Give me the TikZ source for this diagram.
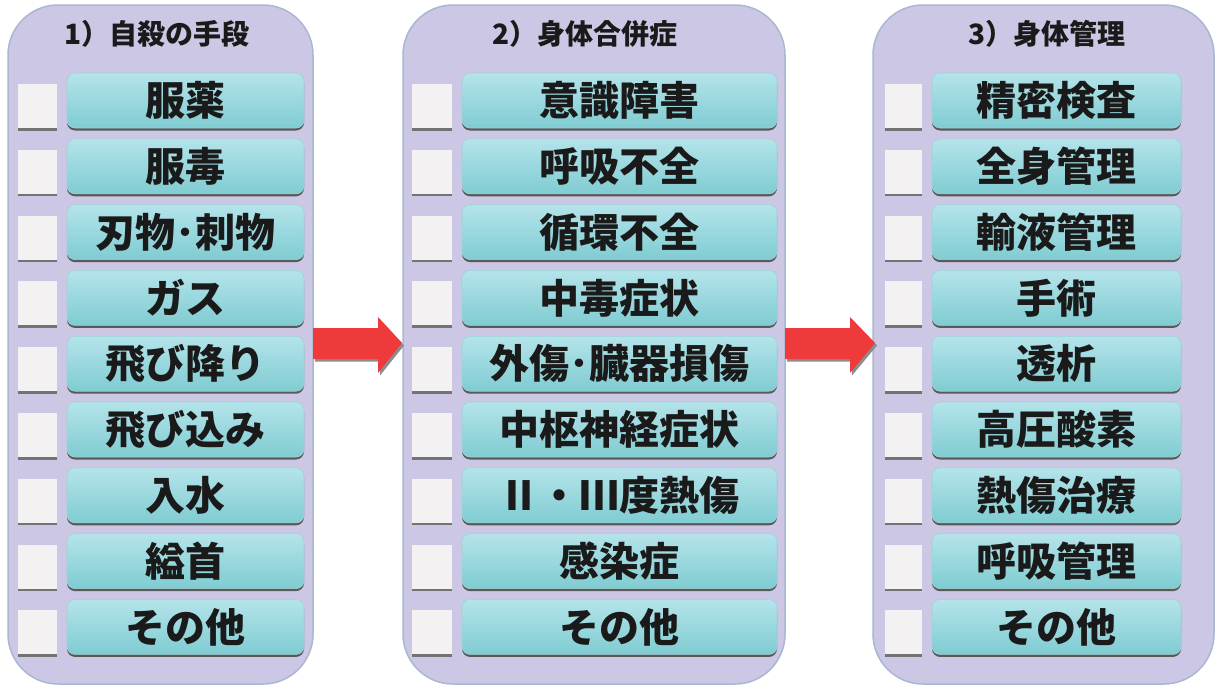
\documentclass[tikz,border=0pt]{standalone}
\usepackage{fontspec}
\newfontfamily\cjk{Noto Sans CJK JP}
\usetikzlibrary{shadows,calc}
\definecolor{panelfill}{HTML}{CBC7E4}
\definecolor{paneledge}{HTML}{A8B8D2}
\definecolor{boxtop}{HTML}{B4E4EA}
\definecolor{boxbot}{HTML}{7FCCD2}
\definecolor{boxedge}{HTML}{9ED3D8}
\definecolor{chk}{HTML}{F3F1F1}
\definecolor{arrred}{HTML}{EE3A3B}
\definecolor{txt}{HTML}{1A1A1A}
\begin{document}
\begin{tikzpicture}[x=1pt,y=-1pt,
 panel/.style={draw=paneledge, line width=1.5pt, fill=panelfill, rounded corners=50pt, inner sep=0pt},
 itembox/.style={draw=boxedge, line width=0.6pt, top color=boxtop, bottom color=boxbot,
   rounded corners=8pt, minimum height=55pt, inner sep=0pt,
   font=\cjk\bfseries\fontsize{40}{40}\selectfont, text=txt,
   drop shadow={shadow xshift=0pt, shadow yshift=-2.5pt, fill=black!65, opacity=1}},
 chkbox/.style={fill=chk, minimum width=39pt, minimum height=44pt, inner sep=0pt,
   drop shadow={shadow xshift=0pt, shadow yshift=-2.5pt, fill=black!55, opacity=1}},
 ttl/.style={font=\cjk\bfseries\fontsize{28}{28}\selectfont, text=txt},
 bigarrow/.style={fill=arrred},
 arrshadow/.style={fill=black!45}
]
\useasboundingbox (0,0) rectangle (1217,688);
\fill[white] (0,0) rectangle (1217,688);

% panels
\node[panel, minimum width=305pt, minimum height=679pt] (p1) at (160.5,344.5) {};
\node[panel, minimum width=382pt, minimum height=679pt] (p2) at (594,344.5) {};
\node[panel, minimum width=341pt, minimum height=679pt] (p3) at (1043.5,344.5) {};

% titles
\node[ttl] (t1) at (157,34) {1）自殺の手段};
\node[ttl] (t2) at (585,34) {2）身体合併症};
\node[ttl] (t3) at (1047,34) {3）身体管理};

% column 1
\foreach \t [count=\i] in {服薬,服毒,刃物･刺物,ガス,飛び降り,飛び込み,入水,縊首,その他}{
  \pgfmathsetmacro\yc{100.5+65.8*(\i-1)}
  \node[chkbox] (ca\i) at (37.5,\yc+5.5) {};
  \node[itembox, minimum width=237pt] (a\i) at (185.5,\yc) {\t};
}
% column 2
\foreach \t [count=\i] in {意識障害,呼吸不全,循環不全,中毒症状,外傷･臓器損傷,中枢神経症状,Ⅱ・Ⅲ度熱傷,感染症,その他}{
  \pgfmathsetmacro\yc{100.5+65.8*(\i-1)}
  \node[chkbox, minimum width=40pt] (cb\i) at (432,\yc+5.5) {};
  \node[itembox, minimum width=315pt] (b\i) at (619.5,\yc) {\t};
}
% column 3
\foreach \t [count=\i] in {精密検査,全身管理,輸液管理,手術,透析,高圧酸素,熱傷治療,呼吸管理,その他}{
  \pgfmathsetmacro\yc{100.5+65.8*(\i-1)}
  \node[chkbox, minimum width=37pt] (cc\i) at (903.5,\yc+5.5) {};
  \node[itembox, minimum width=249pt] (c\i) at (1056.5,\yc) {\t};
}

% arrows
\fill[arrshadow] (315,330.5) -- (380,330.5) -- (380,319.5) -- (404,345.5) -- (380,375.5) -- (380,361.5) -- (315,361.5) -- cycle;
\fill[bigarrow] (313,328) -- (378,328) -- (378,317) -- (402,343) -- (378,373) -- (378,359) -- (313,359) -- cycle;
\fill[arrshadow] (787,330.5) -- (852,330.5) -- (852,319.5) -- (877,345.5) -- (852,375.5) -- (852,361.5) -- (787,361.5) -- cycle;
\fill[bigarrow] (785,328) -- (850,328) -- (850,317) -- (875,343) -- (850,373) -- (850,359) -- (785,359) -- cycle;
\end{tikzpicture}
\end{document}
